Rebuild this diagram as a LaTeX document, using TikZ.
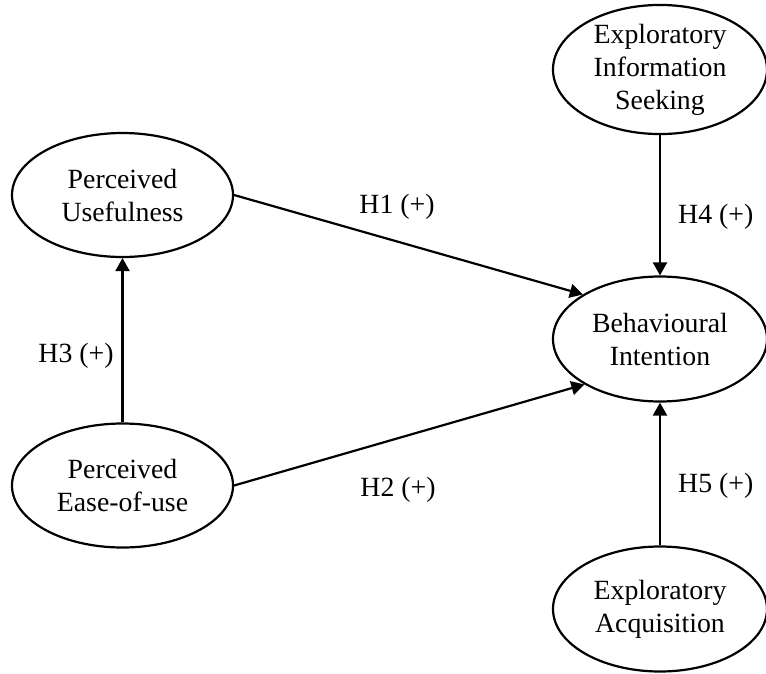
\documentclass[tikz,border=0pt]{standalone}
\usepackage{fontspec}
\setmainfont{Liberation Serif}
\usetikzlibrary{arrows.meta,shapes.geometric}
\begin{document}
\begin{tikzpicture}[x=1pt,y=-1pt,
  construct/.style={ellipse,draw,line width=2.2pt,inner sep=0pt,align=center,
    font=\fontsize{27.8}{33}\selectfont},
  cbig/.style={construct,minimum width=221pt,minimum height=124pt},
  csmall/.style={construct,minimum width=214pt,minimum height=125pt},
  link/.style={line width=2.2pt,-{Triangle[length=13pt,width=14pt]}},
  hyp/.style={font=\fontsize{27.8}{33}\selectfont,inner sep=0pt}]
\useasboundingbox (0,0) rectangle (766,673);
\node[cbig] (pu) at (122.5,195) {Perceived\\Usefulness};
\node[cbig] (pe) at (122.5,485.5) {Perceived\\Ease-of-use};
\node[csmall] (bi) at (660,339) {Behavioural\\Intention};
\node[csmall] (eis) at (660,69.5) {Exploratory\\Information\\Seeking};
\node[csmall] (ea) at (660,609) {Exploratory\\Acquisition};
\draw[link] (pu.east) -- (bi.150);
\draw[link] (pe.east) -- (bi.211);
\draw[link] (pe.north) -- (pu.south);
\draw[link] (eis.south) -- (bi.north);
\draw[link] (ea.north) -- (bi.south);
\node[hyp] (h1) at (397,207) {H1 (+)};
\node[hyp] (h2) at (398,490) {H2 (+)};
\node[hyp] (h3) at (76,356) {H3 (+)};
\node[hyp,anchor=west] (h4) at (678,217) {H4 (+)};
\node[hyp,anchor=west] (h5) at (678,486) {H5 (+)};
\end{tikzpicture}
\end{document}
